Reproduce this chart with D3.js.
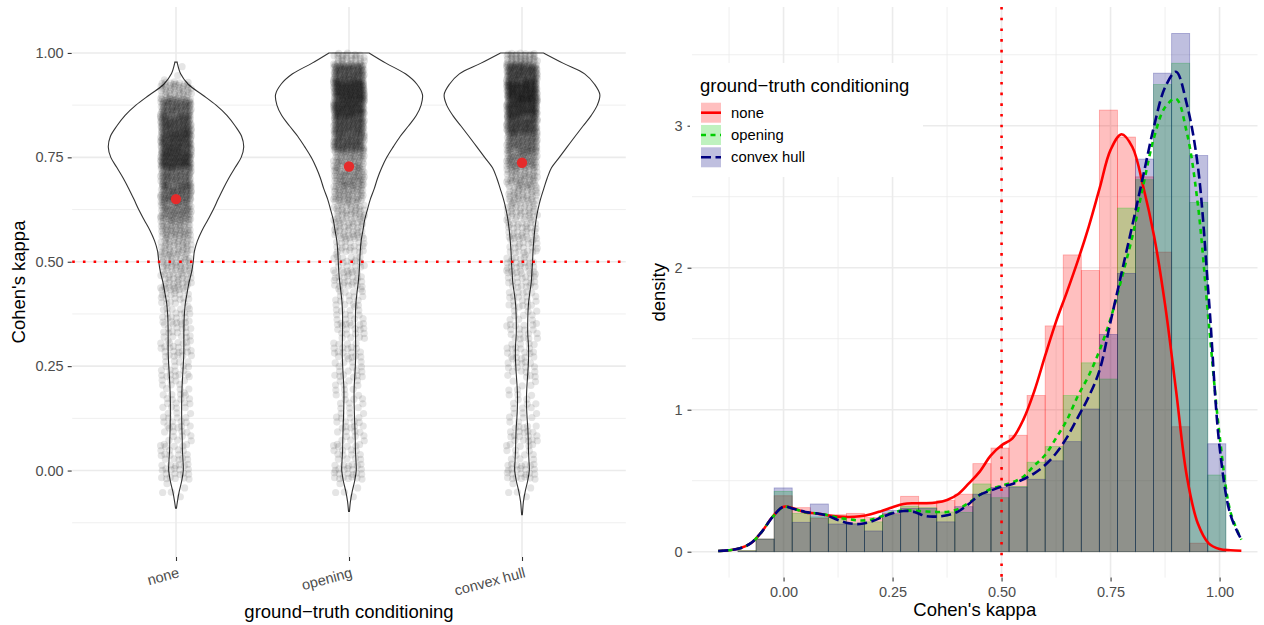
<!DOCTYPE html>
<html>
<head>
<meta charset="utf-8">
<script src="https://cdn.jsdelivr.net/npm/d3@7"></script>
<style>
  body { margin: 0; background: #fff; }
  svg { display: block; font-family: "Liberation Sans", Arial, sans-serif; }
</style>
</head>
<body>
<svg id="chart" width="1264" height="625"></svg>
<script>
// Groups and their styles
const groups = ["none", "opening", "convex hull"];
const groupColors = ["#ff0000", "#00cd00", "#000080"];
const groupDash = [null, "5 4.5", "10 4.5"];

// Density curves at these kappa values
const densityX = [-0.15, -0.125, -0.1, -0.075, -0.05, -0.025, 0, 0.025, 0.05, 0.075,
  0.1, 0.125, 0.15, 0.175, 0.2, 0.225, 0.25, 0.275, 0.3, 0.325,
  0.35, 0.375, 0.4, 0.425, 0.45, 0.475, 0.5, 0.525, 0.55, 0.575,
  0.6, 0.625, 0.65, 0.675, 0.7, 0.725, 0.75, 0.775, 0.8, 0.825,
  0.85, 0.875, 0.9, 0.925, 0.95, 0.975, 1.0, 1.025, 1.05];
const densityNone = [0.005, 0.01, 0.024, 0.059, 0.14, 0.247, 0.317, 0.303, 0.277, 0.27,
  0.256, 0.247, 0.244, 0.249, 0.263, 0.287, 0.313, 0.336, 0.341, 0.341,
  0.346, 0.364, 0.404, 0.481, 0.564, 0.676, 0.749, 0.798, 0.93, 1.13,
  1.38, 1.62, 1.83, 2.05, 2.29, 2.56, 2.83, 2.94, 2.85, 2.57,
  2.22, 1.74, 1.14, 0.53, 0.2, 0.059, 0.019, 0.01, 0.007];
const densityOpening = [0.005, 0.01, 0.024, 0.06, 0.14, 0.245, 0.315, 0.3, 0.278, 0.27,
  0.258, 0.24, 0.228, 0.22, 0.225, 0.25, 0.275, 0.29, 0.288, 0.283,
  0.28, 0.28, 0.3, 0.345, 0.4, 0.441, 0.465, 0.488, 0.528, 0.606,
  0.681, 0.8, 0.928, 1.097, 1.24, 1.42, 1.64, 1.92, 2.22, 2.58,
  2.92, 3.13, 3.19, 2.95, 2.45, 1.62, 0.82, 0.28, 0.085];
const densityConvex = [0.005, 0.01, 0.024, 0.06, 0.14, 0.245, 0.317, 0.3, 0.28, 0.27,
  0.254, 0.223, 0.2, 0.195, 0.211, 0.242, 0.27, 0.287, 0.28, 0.251,
  0.247, 0.256, 0.282, 0.336, 0.4, 0.43, 0.458, 0.477, 0.51, 0.552,
  0.61, 0.693, 0.805, 0.946, 1.092, 1.28, 1.62, 1.96, 2.3, 2.65,
  3.0, 3.27, 3.38, 3.15, 2.72, 1.8, 0.74, 0.26, 0.085];
const densities = [densityNone, densityOpening, densityConvex];

// Histogram bins (edges) and densities per group
const binEdges = [-0.1045, -0.0631, -0.0216, 0.0198, 0.0613, 0.1027, 0.1441, 0.1856, 0.2270, 0.2685,
  0.3099, 0.3513, 0.3928, 0.4342, 0.4757, 0.5171, 0.5585, 0.6000, 0.6414, 0.6829,
  0.7243, 0.7657, 0.8072, 0.8486, 0.8901, 0.9315, 0.9729, 1.0144, 1.0558];
const histNone = [0.007, 0.089, 0.394, 0.31, 0.235, 0.26, 0.27, 0.24, 0.27, 0.39,
  0.35, 0.36, 0.405, 0.62, 0.73, 0.82, 1.10, 1.59, 2.09, 1.98,
  3.11, 2.92, 2.64, 2.11, 0.88, 0.06, 0.005, 0];
const histOpening = [0.007, 0.089, 0.425, 0.27, 0.245, 0.24, 0.2, 0.21, 0.26, 0.32,
  0.31, 0.28, 0.277, 0.477, 0.38, 0.46, 0.63, 0.74, 1.10, 1.33,
  1.216, 2.42, 2.62, 3.29, 3.44, 2.46, 0.54, 0];
const histConvex = [0.005, 0.089, 0.449, 0.207, 0.336, 0.195, 0.195, 0.146, 0.29, 0.305,
  0.305, 0.21, 0.317, 0.405, 0.452, 0.455, 0.51, 0.64, 0.775, 1.005,
  1.53, 1.96, 2.765, 3.37, 3.65, 2.79, 0.76, 0];
const hists = [histNone, histOpening, histConvex];

// Violin trim ends
const violinLow = [-0.09, -0.098, -0.106];
const violinLowDensity = [0.02, 0.02, 0.015];
const violinHigh = [0.978, 1.0, 1.0];
const violinHighDensity = [0.05, 0.87, 0.93];

// Group means (red points)
const meanKappa = [0.65, 0.728, 0.737];

// Ticks
const kappaTicks = [0, 0.25, 0.5, 0.75, 1];
const kappaMinor = [-0.125, 0.125, 0.375, 0.625, 0.875];
const densTicks = [0, 1, 2, 3];
const densMinor = [0.5, 1.5, 2.5, 3.5];
const threshold = 0.5;

// Points per group for the jitter cloud
const pointsPerGroup = 1400;

const svg = d3.select("#chart");
const gridColor = "#ebebeb";
const textColor = "#4d4d4d";
const titleSize = 18.5;
const tickSize = 14.5;

// Panel frames
const left = { x0: 72.2, x1: 625.8, y0: 7, y1: 557 };
const right = { x0: 692, x1: 1257.5, y0: 7, y1: 577.6 };

// Scales
const xCat = d3.scalePoint().domain(groups).range([left.x0, left.x1]).padding(0.6);
const yKappa = d3.scaleLinear().domain([-0.207, 1.110]).range([left.y1, left.y0]);
const xKappa = d3.scaleLinear().domain([-0.21, 1.087]).range([right.x0, right.x1]);
const yDens = d3.scaleLinear().domain([-0.1825, 3.836]).range([right.y1, right.y0]);

// ---------- Left panel ----------
let gl = svg.append("g");

// Grid
kappaMinor.forEach((v) => {
  gl.append("line").attr("x1", left.x0).attr("x2", left.x1)
    .attr("y1", yKappa(v)).attr("y2", yKappa(v))
    .attr("stroke", gridColor).attr("stroke-width", 0.8);
});
kappaTicks.forEach((v) => {
  gl.append("line").attr("x1", left.x0).attr("x2", left.x1)
    .attr("y1", yKappa(v)).attr("y2", yKappa(v))
    .attr("stroke", gridColor).attr("stroke-width", 1.6);
});
groups.forEach((g) => {
  gl.append("line").attr("x1", xCat(g)).attr("x2", xCat(g))
    .attr("y1", left.y0).attr("y2", left.y1)
    .attr("stroke", gridColor).attr("stroke-width", 1.6);
});

// Violin width scale (area scaling: same density -> same width)
let maxDensity = d3.max(densities, (d) => d3.max(d));
const halfWidth = d3.scaleLinear().domain([0, maxDensity]).range([0, 0.45 * xCat.step()]);

let violinData = groups.map((g, gi) => {
  let pts = [[violinLow[gi], violinLowDensity[gi]]];
  densityX.forEach((k, i) => {
    if (k > violinLow[gi] && k < violinHigh[gi]) pts.push([k, densities[gi][i]]);
  });
  pts.push([violinHigh[gi], violinHighDensity[gi]]);
  return pts;
});

// Draw violins (white fill, dark outline)
violinData.forEach((pts, gi) => {
  const cx = xCat(groups[gi]);
  const area = d3.area()
    .curve(d3.curveCatmullRom)
    .y((d) => yKappa(d[0]))
    .x0((d) => cx - halfWidth(d[1]))
    .x1((d) => cx + halfWidth(d[1]));
  gl.append("path").attr("d", area(pts))
    .attr("fill", "#fff").attr("stroke", "#333").attr("stroke-width", 1.1);
});

// Jittered points built from the histogram counts
const phi1 = 0.7548776662;
const phi2 = 0.5698402910;
let cloud = [];
groups.forEach((g, gi) => {
  let m = 0;
  hists[gi].forEach((d, bi) => {
    const lo = Math.max(binEdges[bi], violinLow[gi]);
    const hi = Math.min(binEdges[bi + 1], violinHigh[gi]);
    const n = Math.round(d * pointsPerGroup * (binEdges[bi + 1] - binEdges[bi]));
    for (let i = 0; i < n; i++) {
      m++;
      const u = (0.5 + phi1 * m) % 1;
      const v = (0.5 + phi2 * m) % 1;
      cloud.push({ g: g, k: lo + (hi - lo) * u, j: 2 * v - 1 });
    }
  });
});

gl.append("g").selectAll("circle")
  .data(cloud)
  .enter()
  .append("circle")
  .attr("cx", (d) => xCat(d.g) + d.j * 15.5)
  .attr("cy", (d) => yKappa(d.k))
  .attr("r", 3.6)
  .attr("fill", "#000")
  .attr("fill-opacity", 0.1);

// Mean points
gl.append("g").selectAll("circle")
  .data(groups)
  .enter()
  .append("circle")
  .attr("cx", (d) => xCat(d))
  .attr("cy", (d, i) => yKappa(meanKappa[i]))
  .attr("r", 5.2)
  .attr("fill", "#e52b2b");

// Threshold line
gl.append("line").attr("x1", left.x0).attr("x2", left.x1)
  .attr("y1", yKappa(threshold)).attr("y2", yKappa(threshold))
  .attr("stroke", "#ff0000").attr("stroke-width", 2.6)
  .attr("stroke-dasharray", "2.6 8.1");

// Axes
let yAxisL = gl.append("g")
  .attr("transform", `translate(${left.x0 - 0.5},0)`)
  .call(d3.axisLeft(yKappa).tickValues(kappaTicks).tickFormat(d3.format(".2f")).tickSize(4).tickPadding(4));
let xAxisL = gl.append("g")
  .attr("transform", `translate(0,${left.y1})`)
  .call(d3.axisBottom(xCat).tickSize(4));
xAxisL.selectAll("text")
  .attr("y", 0)
  .attr("dy", "0.71em")
  .attr("transform", "translate(1,10) rotate(-15)")
  .style("text-anchor", "end");

// Axis titles
gl.append("text")
  .attr("transform", `translate(25,${(left.y0 + left.y1) / 2}) rotate(-90)`)
  .attr("text-anchor", "middle").attr("font-size", titleSize)
  .text("Cohen's kappa");
gl.append("text")
  .attr("x", (left.x0 + left.x1) / 2).attr("y", 617.5)
  .attr("text-anchor", "middle").attr("font-size", titleSize)
  .text("ground\u2212truth conditioning");

// ---------- Right panel ----------
let gr = svg.append("g");

// Grid
densMinor.forEach((v) => {
  gr.append("line").attr("x1", right.x0).attr("x2", right.x1)
    .attr("y1", yDens(v)).attr("y2", yDens(v))
    .attr("stroke", gridColor).attr("stroke-width", 0.8);
});
kappaMinor.forEach((v) => {
  gr.append("line").attr("x1", xKappa(v)).attr("x2", xKappa(v))
    .attr("y1", right.y0).attr("y2", right.y1)
    .attr("stroke", gridColor).attr("stroke-width", 0.8);
});
densTicks.forEach((v) => {
  gr.append("line").attr("x1", right.x0).attr("x2", right.x1)
    .attr("y1", yDens(v)).attr("y2", yDens(v))
    .attr("stroke", gridColor).attr("stroke-width", 1.6);
});
kappaTicks.forEach((v) => {
  gr.append("line").attr("x1", xKappa(v)).attr("x2", xKappa(v))
    .attr("y1", right.y0).attr("y2", right.y1)
    .attr("stroke", gridColor).attr("stroke-width", 1.6);
});

// Histograms, drawn on top of each other
hists.forEach((h, gi) => {
  gr.append("g").selectAll("rect")
    .data(h)
    .enter()
    .append("rect")
    .attr("x", (d, i) => xKappa(binEdges[i]))
    .attr("width", (d, i) => xKappa(binEdges[i + 1]) - xKappa(binEdges[i]))
    .attr("y", (d) => yDens(d))
    .attr("height", (d) => yDens(0) - yDens(d))
    .attr("fill", groupColors[gi])
    .attr("fill-opacity", 0.25)
    .attr("stroke", groupColors[gi])
    .attr("stroke-opacity", 0.3)
    .attr("stroke-width", 0.8);
});

// Threshold line
gr.append("line").attr("x1", xKappa(threshold)).attr("x2", xKappa(threshold))
  .attr("y1", right.y0).attr("y2", right.y1)
  .attr("stroke", "#ff0000").attr("stroke-width", 2.6)
  .attr("stroke-dasharray", "2.6 8.1");

// Density lines
const densLine = d3.line()
  .curve(d3.curveCatmullRom)
  .x((d, i) => xKappa(densityX[i]))
  .y((d) => yDens(d));
densities.forEach((d, gi) => {
  gr.append("path").attr("d", densLine(d))
    .attr("fill", "none")
    .attr("stroke", groupColors[gi])
    .attr("stroke-width", 2.6)
    .attr("stroke-dasharray", groupDash[gi]);
});

// Axes
let yAxisR = gr.append("g")
  .attr("transform", `translate(${right.x0 - 0.5},0)`)
  .call(d3.axisLeft(yDens).tickValues(densTicks).tickFormat(d3.format("d")).tickSize(4).tickPadding(5));
let xAxisR = gr.append("g")
  .attr("transform", `translate(0,${right.y1})`)
  .call(d3.axisBottom(xKappa).tickValues(kappaTicks).tickFormat(d3.format(".2f")).tickSize(4).tickPadding(5));

gr.append("text")
  .attr("transform", `translate(665,${(right.y0 + right.y1) / 2}) rotate(-90)`)
  .attr("text-anchor", "middle").attr("font-size", titleSize)
  .text("density");
gr.append("text")
  .attr("x", (right.x0 + right.x1) / 2).attr("y", 615.5)
  .attr("text-anchor", "middle").attr("font-size", titleSize)
  .text("Cohen's kappa");

// Style all axes like ggplot
svg.selectAll(".domain").remove();
svg.selectAll(".tick line").attr("stroke", "#333").attr("stroke-width", 1.1);
svg.selectAll(".tick text").attr("fill", textColor).attr("font-size", tickSize)
  .attr("font-family", "Liberation Sans, Arial, sans-serif");

// ---------- Legend ----------
let legend = svg.append("g");
legend.append("rect").attr("x", 690).attr("y", 63).attr("width", 233).attr("height", 114).attr("fill", "#fff");
legend.append("text").attr("x", 700).attr("y", 92).attr("font-size", titleSize)
  .text("ground\u2212truth conditioning");
groups.forEach((g, gi) => {
  const cy = 112.7 + gi * 22.3;
  legend.append("rect").attr("x", 701).attr("y", cy - 10).attr("width", 20).attr("height", 20)
    .attr("fill", groupColors[gi]).attr("fill-opacity", 0.25);
  legend.append("line").attr("x1", 701).attr("x2", 721).attr("y1", cy).attr("y2", cy)
    .attr("stroke", groupColors[gi]).attr("stroke-width", 2.6)
    .attr("stroke-dasharray", groupDash[gi]);
  legend.append("text").attr("x", 731).attr("y", cy + 5).attr("font-size", 14.8).text(g);
});
</script>
</body>
</html>
